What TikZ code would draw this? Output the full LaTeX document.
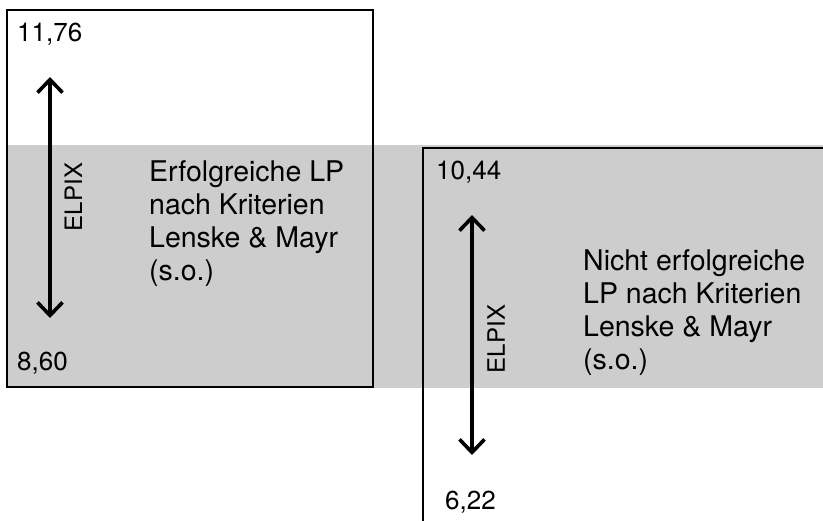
\documentclass[tikz,border=0pt]{standalone}
\usepackage{fontspec}
\setmainfont{TeX Gyre Heros}
\usepackage{xcolor}
\usetikzlibrary{arrows.meta}
\definecolor{bandgray}{HTML}{CCCDCC}

\begin{document}
\begin{tikzpicture}[x=1pt, y=-1pt,
    boxline/.style={line width=1.6pt},
    num/.style={anchor=base west, inner sep=0pt, font=\fontsize{26}{30}\selectfont},
    desc/.style={anchor=north west, inner sep=0pt, align=left, font=\fontsize{28.5}{33.3}\selectfont},
    elpix/.style={rotate=90, inner sep=0pt, font=\fontsize{24}{28}\selectfont},
    spanarrow/.style={line width=3.6pt, {Straight Barb[length=13pt,width=25pt]}-{Straight Barb[length=13pt,width=25pt]}}]
    \useasboundingbox (0,0) rectangle (823,521);
    \fill[bandgray] (7,145) rectangle (823,388);
    \draw[boxline] (7,10) rectangle (373,387);
    \draw[boxline] (423,521) -- (423,148) -- (823,148);

    \node[num] (hi1) at (17,42) {11,76};
    \node[num] (lo1) at (17,371) {8,60};
    \node[num] (hi2) at (436,180) {10,44};
    \node[num] (lo2) at (445,510) {6,22};

    \coordinate (top1) at (50,77);
    \coordinate (bot1) at (50,318);
    \coordinate (top2) at (472,215);
    \coordinate (bot2) at (472,455);
    \draw[spanarrow] (top1) -- (bot1);
    \draw[spanarrow] (top2) -- (bot2);
    \node[elpix] (e1) at (73.5,197) {ELPIX};
    \node[elpix] (e2) at (496,339) {ELPIX};

    \node[desc] (ok) at (149,160) {Erfolgreiche LP\\nach Kriterien\\Lenske \& Mayr\\(s.o.)};
    \node[desc] (nok) at (583,249) {Nicht erfolgreiche\\LP nach Kriterien\\Lenske \& Mayr\\(s.o.)};
\end{tikzpicture}
\end{document}
